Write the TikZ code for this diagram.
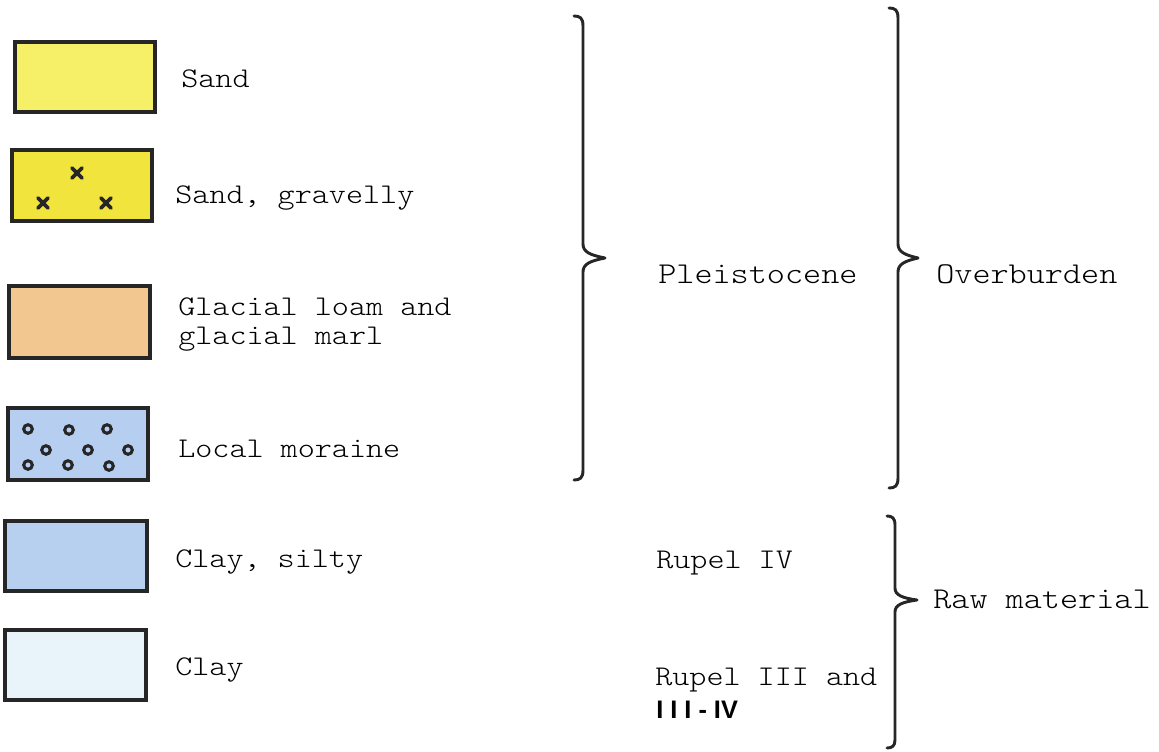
\documentclass[tikz,border=0pt]{standalone}
\usepackage{fontspec}
\setmonofont{lmmonolt10-regular.otf}[FakeStretch=1.14]
\newfontfamily\boldsans{Liberation Sans}
\definecolor{sandA}{HTML}{F6F068}
\definecolor{sandB}{HTML}{F1E43C}
\definecolor{loam}{HTML}{F3C890}
\definecolor{moraine}{HTML}{B6CEF0}
\definecolor{silty}{HTML}{B8D0F0}
\definecolor{clayc}{HTML}{E8F4FA}
\tikzset{
  legendbox/.style={draw=black!85, line width=2.6pt},
  lbl/.style={anchor=base west, inner sep=0pt, font=\ttfamily\fontsize{21.4}{22}\selectfont},
  biglbl/.style={anchor=base west, inner sep=0pt, font=\ttfamily\fontsize{22.7}{23}\selectfont},
  brace/.style={draw=black!85, line width=2.2pt, line cap=round, line join=round},
  gravel/.style={draw=black!85, line width=2.8pt, line cap=round},
  pebble/.style={draw=black!85, line width=2.3pt},
}
\begin{document}
\begin{tikzpicture}[x=0.75pt,y=-0.75pt]
\useasboundingbox (0,0) rectangle (1159,752);
% legend boxes
\draw[legendbox, fill=sandA] (15,42) rectangle (155,112);
\draw[legendbox, fill=sandB] (12,150) rectangle (152,221);
\draw[legendbox, fill=loam] (9,286) rectangle (150,358);
\draw[legendbox, fill=moraine] (8,408) rectangle (148,480);
\draw[legendbox, fill=silty] (5,521) rectangle (147,591);
\draw[legendbox, fill=clayc] (5,630) rectangle (146,700);
% gravel crosses
\foreach \x/\y in {77/173, 43/203, 106/203}{
  \draw[gravel] (\x-5,\y-5) -- (\x+5,\y+5) (\x-5,\y+5) -- (\x+5,\y-5);
}
% moraine pebbles
\foreach \x/\y in {28/429, 69/430, 107/429, 46/450, 88/450, 128/450, 28/465, 68/465, 109/466}{
  \draw[pebble] (\x,\y) circle (4.3);
}
% labels
\node[lbl] (sand) at (181,88) {Sand};
\node[lbl] (gravelly) at (175,204) {Sand, gravelly};
\node[lbl] (loamlbl) at (178,315) {Glacial loam and};
\node[lbl] (marllbl) at (178,344) {glacial marl};
\node[lbl] (morlbl) at (178,457) {Local moraine};
\node[lbl] (siltlbl) at (175,567) {Clay, silty};
\node[lbl] (claylbl) at (175,675) {Clay};
\node[biglbl] (pleist) at (658,283) {Pleistocene};
\node[biglbl] (overb) at (936,283) {Overburden};
\node[lbl] (rupel4) at (656,568) {Rupel IV};
\node[lbl] (rupel3) at (655,685) {Rupel III and};
\node[anchor=base west, inner sep=0pt, font=\boldsans\bfseries\fontsize{19}{22}\selectfont] (rupel34) at (656,718) {I I I - IV};
\node[biglbl] (raw) at (933,608) {Raw material};
% braces
\draw[brace] (574,16) .. controls (580,16) and (583,18) .. (583,26) -- (583,244)
  .. controls (583,252) and (590,255) .. (605,258)
  .. controls (590,261) and (583,264) .. (583,272) -- (583,470)
  .. controls (583,478) and (580,480) .. (574,480);
\draw[brace] (889,8) .. controls (895,8) and (898,10) .. (898,18) -- (898,244)
  .. controls (898,252) and (905,255) .. (918,258)
  .. controls (905,261) and (898,264) .. (898,272) -- (898,478)
  .. controls (898,486) and (895,488) .. (889,488);
\draw[brace] (887,516) .. controls (892,516) and (895,518) .. (895,525) -- (895,588)
  .. controls (895,595) and (902,598) .. (917,600)
  .. controls (902,602) and (895,605) .. (895,612) -- (895,740)
  .. controls (895,746) and (892,748) .. (887,748);
\end{tikzpicture}
\end{document}
